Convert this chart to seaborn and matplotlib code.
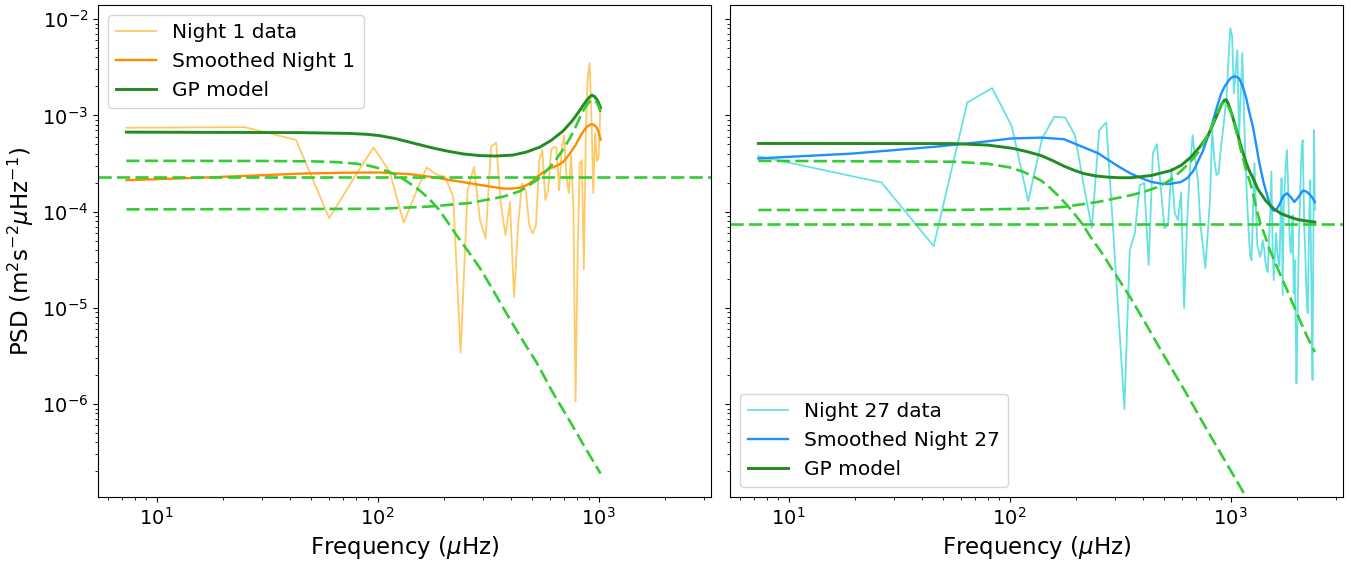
import numpy as np
import matplotlib
matplotlib.use("Agg")
import matplotlib.pyplot as plt
import seaborn as sns

# ---------------- Night 1 ----------------
night1_f0, night1_df = 7.3, 17.7          # periodogram frequency grid (muHz)
night1_psd = [7.43e-4, 7.55e-4, 5.56e-4, 8.55e-5, 2.23e-4, 4.65e-4, 2.59e-4, 7.65e-5, 1.56e-4, 2.88e-4,
              2.43e-4, 2.30e-4, 1.43e-4, 3.43e-6, 1.63e-4, 2.92e-4, 8.17e-5, 5.27e-5, 4.71e-4, 5.19e-4,
              1.17e-4, 5.70e-5, 1.26e-4, 1.29e-5, 7.24e-5, 1.96e-4, 1.67e-4, 7.24e-5, 5.94e-5, 7.24e-5,
              3.43e-4, 4.35e-4, 1.32e-4, 1.67e-4, 4.35e-4, 4.71e-4, 4.60e-4, 1.67e-4, 4.35e-4, 6.24e-4,
              2.30e-4, 1.55e-4, 3.87e-4, 1.12e-4, 1.07e-6, 3.98e-5, 3.17e-4, 3.43e-4, 2.53e-5, 6.49e-4,
              2.52e-3, 3.49e-3, 9.66e-4, 1.56e-4, 6.49e-4, 3.35e-4, 3.60e-4, 1.05e-3]

night1_smooth_f = [7.3, 15.7, 26.4, 44.5, 74.9, 102, 140, 173, 215, 262, 322, 370, 400, 440, 472,
                   500, 524, 560, 602, 650, 692, 742, 785, 823, 855, 883, 910, 930, 955, 979,
                   1000, 1020]
night1_smooth_p = [2.12e-4, 2.25e-4, 2.36e-4, 2.48e-4, 2.54e-4, 2.55e-4, 2.45e-4, 2.30e-4, 2.12e-4,
                   1.97e-4, 1.82e-4, 1.74e-4, 1.73e-4, 1.77e-4, 1.88e-4, 2.05e-4, 2.28e-4, 2.55e-4,
                   2.81e-4, 3.02e-4, 3.29e-4, 4.02e-4, 4.90e-4, 5.98e-4, 6.90e-4, 7.60e-4, 7.95e-4,
                   8.11e-4, 7.95e-4, 7.50e-4, 6.70e-4, 5.60e-4]

night1_gp_f = [7.3, 44.5, 74.9, 90, 102, 120, 145, 175, 206, 245, 290, 340, 409, 470, 542, 610,
               689, 760, 823, 860, 885, 910, 930, 955, 982, 1000, 1020]
night1_gp_p = [6.70e-4, 6.62e-4, 6.49e-4, 6.35e-4, 6.16e-4, 5.75e-4, 5.15e-4, 4.62e-4, 4.26e-4,
               3.97e-4, 3.82e-4, 3.78e-4, 3.87e-4, 4.15e-4, 4.68e-4, 5.50e-4, 6.86e-4, 8.80e-4,
               1.135e-3, 1.32e-3, 1.44e-3, 1.55e-3, 1.62e-3, 1.58e-3, 1.46e-3, 1.35e-3, 1.20e-3]

night1_gran_f = [7.3, 30, 50, 65, 80, 92, 102, 112, 122, 133, 145, 158, 173, 188, 205, 225, 244,
                 265, 290, 330, 370, 450, 524, 620, 742, 870, 1020]
night1_gran_p = [3.37e-4, 3.36e-4, 3.33e-4, 3.27e-4, 3.15e-4, 2.99e-4, 2.81e-4, 2.60e-4, 2.39e-4,
                 2.12e-4, 1.86e-4, 1.60e-4, 1.32e-4, 1.07e-4, 8.10e-5, 5.90e-5, 4.55e-5, 3.50e-5,
                 2.60e-5, 1.58e-5, 1.00e-5, 4.70e-6, 2.70e-6, 1.32e-6, 6.60e-7, 3.50e-7, 1.90e-7]

night1_osc_f = [7.3, 102, 173, 262, 370, 440, 524, 575, 623, 680, 742, 785, 823, 850, 877, 905,
                930, 955, 982, 1000, 1020]
night1_osc_p = [1.055e-4, 1.07e-4, 1.13e-4, 1.23e-4, 1.43e-4, 1.63e-4, 2.12e-4, 2.60e-4, 3.17e-4,
                4.20e-4, 5.81e-4, 7.50e-4, 9.59e-4, 1.11e-3, 1.25e-3, 1.37e-3, 1.44e-3, 1.43e-3,
                1.35e-3, 1.24e-3, 1.08e-3]

night1_white = 2.28e-4

# ---------------- Night 27 ----------------
night27_f0, night27_df = 7.3, 19.02
night27_psd = [3.77e-4, 2.01e-4, 4.38e-5, 1.36e-3, 1.92e-3, 7.67e-4, 1.28e-4, 5.80e-4, 9.70e-4, 9.50e-4,
               6.23e-4, 1.88e-4, 6.74e-5, 7.03e-4, 8.45e-4, 7.78e-5, 7.82e-6, 8.87e-7,
               3.98e-5, 5.98e-5, 1.88e-4, 1.98e-4, 2.78e-5, 4.05e-4, 5.03e-4, 1.80e-4, 6.74e-5, 7.24e-5,
               2.83e-4, 9.64e-5, 8.16e-5, 1.59e-4, 9.94e-6, 7.60e-5, 2.70e-4, 6.23e-4, 3.43e-4, 2.12e-4,
               7.24e-5, 4.49e-5, 2.59e-5, 5.70e-5, 1.32e-4, 7.03e-4, 3.43e-4, 2.39e-4, 2.51e-4, 4.35e-4,
               6.54e-4, 1.01e-3, 1.51e-3, 3.75e-3, 8.06e-3, 6.66e-3, 1.70e-3, 2.95e-3, 4.76e-3, 5.94e-4,
               1.62e-3, 4.43e-3, 1.13e-3, 3.43e-4, 1.32e-4, 6.42e-5, 3.53e-5, 3.13e-5, 1.04e-4, 3.19e-4,
               1.17e-4, 4.49e-5, 3.98e-5, 3.37e-5, 3.79e-5, 5.06e-5, 4.28e-5, 3.13e-5, 2.59e-5, 2.35e-5,
               5.06e-5, 9.20e-5, 2.60e-4, 4.49e-5, 1.94e-5, 3.53e-5, 5.98e-5, 3.98e-5, 2.99e-5, 2.72e-5,
               8.16e-5, 2.23e-4, 1.36e-5, 1.11e-4, 1.88e-4, 3.04e-4, 4.35e-4, 2.39e-4, 9.20e-5, 5.06e-5,
               3.71e-5, 5.70e-5, 9.20e-5, 1.42e-5, 3.13e-5, 7.46e-6, 1.65e-6, 5.87e-6, 2.47e-5, 6.42e-5,
               1.32e-4, 3.04e-4, 4.91e-4, 5.53e-4, 1.67e-4, 6.42e-5, 3.71e-5, 1.94e-5, 1.07e-5, 8.82e-6,
               3.13e-5, 1.04e-4, 2.12e-4, 3.98e-5, 7.46e-6, 1.78e-6, 3.98e-5, 7.03e-4, 1.04e-4]

night27_smooth_f = [7.3, 19.1, 45.5, 75, 102, 139, 176, 210, 251, 309, 354, 400, 436, 480, 520,
                    596, 640, 682, 750, 814, 860, 904, 940, 972, 1003, 1035, 1060, 1090, 1130,
                    1173, 1215, 1262, 1300, 1343, 1410, 1475, 1520, 1570, 1615, 1659, 1730, 1798,
                    1870, 1941, 2030, 2118, 2200, 2285, 2350, 2404]
night27_smooth_p = [3.57e-4, 4.00e-4, 4.71e-4, 5.30e-4, 5.76e-4, 5.87e-4, 5.66e-4, 4.79e-4, 4.05e-4,
                    2.97e-4, 2.48e-4, 2.20e-4, 2.04e-4, 1.96e-4, 1.93e-4, 2.03e-4, 2.25e-4, 2.70e-4,
                    4.30e-4, 7.28e-4, 1.15e-3, 1.66e-3, 2.00e-3, 2.24e-3, 2.45e-3, 2.54e-3, 2.52e-3,
                    2.44e-3, 2.05e-3, 1.55e-3, 1.08e-3, 7.55e-4, 5.20e-4, 3.35e-4, 2.00e-4, 1.38e-4,
                    1.12e-4, 1.02e-4, 1.06e-4, 1.17e-4, 1.45e-4, 1.55e-4, 1.42e-4, 1.26e-4, 1.42e-4,
                    1.65e-4, 1.62e-4, 1.50e-4, 1.38e-4, 1.26e-4]

night27_gp_f = [7.3, 56, 79.8, 103.5, 120, 139, 157, 176, 195, 217, 245, 279, 315, 354, 436, 537,
                600, 661, 725, 789, 835, 876, 910, 937, 955, 972, 1010, 1057, 1110, 1173, 1220,
                1262, 1329, 1444, 1560, 1689, 1850, 2016, 2200, 2404]
night27_gp_p = [5.11e-4, 5.09e-4, 4.91e-4, 4.54e-4, 4.20e-4, 3.82e-4, 3.38e-4, 2.97e-4, 2.70e-4,
                2.48e-4, 2.35e-4, 2.28e-4, 2.25e-4, 2.25e-4, 2.37e-4, 2.67e-4, 3.05e-4, 3.68e-4,
                4.70e-4, 6.16e-4, 8.20e-4, 1.06e-3, 1.30e-3, 1.44e-3, 1.45e-3, 1.36e-3, 1.05e-3,
                7.37e-4, 4.90e-4, 3.27e-4, 2.60e-4, 2.23e-4, 1.71e-4, 1.29e-4, 1.08e-4, 9.53e-5,
                8.80e-5, 8.26e-5, 8.00e-5, 7.78e-5]

night27_gran_f = [7.3, 56, 80, 100, 115, 125, 139, 152, 165, 180, 195, 213, 233, 260, 287, 320,
                  354, 420, 499, 620, 789, 950, 1173, 1250]
night27_gran_p = [3.37e-4, 3.30e-4, 3.14e-4, 2.88e-4, 2.60e-4, 2.38e-4, 2.10e-4, 1.78e-4, 1.48e-4,
                  1.20e-4, 9.70e-5, 7.50e-5, 5.40e-5, 3.80e-5, 2.65e-5, 1.80e-5, 1.25e-5, 6.40e-6,
                  3.20e-6, 1.38e-6, 5.20e-7, 2.50e-7, 1.09e-7, 8.60e-8]

night27_osc_f = [7.3, 56, 139, 176, 251, 354, 420, 480, 540, 596, 655, 711, 765, 814, 850, 885,
                 912, 937, 960, 1003, 1050, 1113, 1170, 1236, 1300, 1356, 1430, 1504, 1640, 1777,
                 1920, 2056, 2230, 2404]
night27_osc_p = [1.04e-4, 1.04e-4, 1.08e-4, 1.12e-4, 1.26e-4, 1.48e-4, 1.65e-4, 1.84e-4, 2.17e-4,
                 2.64e-4, 3.25e-4, 4.10e-4, 5.50e-4, 7.32e-4, 9.30e-4, 1.16e-3, 1.31e-3, 1.38e-3,
                 1.33e-3, 1.08e-3, 7.50e-4, 4.35e-4, 2.80e-4, 1.88e-4, 1.15e-4, 7.78e-5, 5.60e-5,
                 3.98e-5, 2.50e-5, 1.64e-5, 1.08e-5, 7.46e-6, 4.90e-6, 3.47e-6]

night27_white = 7.36e-5

labels_1 = ["Night 1 data", "Smoothed Night 1", "GP model"]
labels_27 = ["Night 27 data", "Smoothed Night 27", "GP model"]

night1_f = night1_f0 + night1_df * np.arange(len(night1_psd))
night27_f = night27_f0 + night27_df * np.arange(len(night27_psd))

plt.rcParams["font.family"] = ["DejaVu Sans"]
fig, axes = plt.subplots(1, 2, figsize=(13.51, 5.63), dpi=100, sharex=True, sharey=True)
fig.subplots_adjust(left=0.0725, right=0.994, top=0.991, bottom=0.117, wspace=0.031)

GREEN_DASH = "#32cd32"
GP_GREEN = "#228b22"
DASH = (0, (5, 2))


def draw_panel(ax, f, psd, sf, sp, gf, gp, hf, hp, of, op, white,
               data_color, data_alpha, smooth_color, labels, legend_loc):
    ax.set_xscale("log")
    ax.set_yscale("log")
    sns.lineplot(x=f, y=psd, ax=ax, color=data_color, alpha=data_alpha, lw=1.3,
                 label=labels[0], estimator=None, sort=False)
    sns.lineplot(x=sf, y=sp, ax=ax, color=smooth_color, lw=1.7,
                 label=labels[1], estimator=None, sort=False)
    sns.lineplot(x=gf, y=gp, ax=ax, color=GP_GREEN, lw=2.1,
                 label=labels[2], estimator=None, sort=False)
    sns.lineplot(x=hf, y=hp, ax=ax, color=GREEN_DASH, lw=1.9, linestyle=DASH,
                 estimator=None, sort=False, legend=False)
    sns.lineplot(x=of, y=op, ax=ax, color=GREEN_DASH, lw=1.9, linestyle=DASH,
                 estimator=None, sort=False, legend=False)
    ax.axhline(white, color=GREEN_DASH, lw=1.9, linestyle=DASH)
    ax.legend(loc=legend_loc, fontsize=14.5)
    ax.set_xlabel("Frequency ($\\mu$Hz)", fontsize=16.5)
    ax.tick_params(labelsize=14)


draw_panel(axes[0], night1_f, night1_psd, night1_smooth_f, night1_smooth_p,
           night1_gp_f, night1_gp_p, night1_gran_f, night1_gran_p,
           night1_osc_f, night1_osc_p, night1_white,
           "orange", 0.6, "darkorange", labels_1, "upper left")
draw_panel(axes[1], night27_f, night27_psd, night27_smooth_f, night27_smooth_p,
           night27_gp_f, night27_gp_p, night27_gran_f, night27_gran_p,
           night27_osc_f, night27_osc_p, night27_white,
           "darkturquoise", 0.6, "dodgerblue", labels_27, "lower left")

axes[0].set_ylabel("PSD (m$^2$s$^{-2}\\mu$Hz$^{-1}$)", fontsize=16.5)
axes[1].set_ylabel("")
axes[0].set_xlim(5.43, 3220)
axes[0].set_ylim(1.08e-7, 1.40e-2)

fig.savefig("out.png", dpi=100)
